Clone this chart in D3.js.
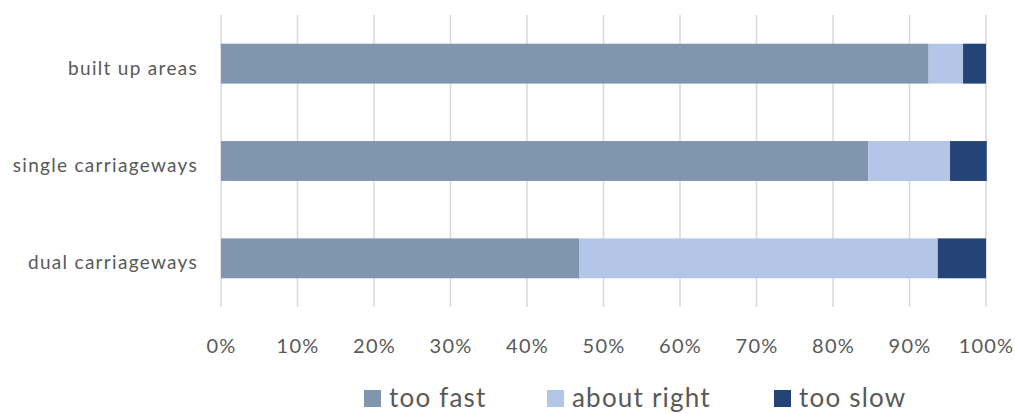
<!DOCTYPE html>
<html>
<head>
<meta charset="utf-8">
<script src="https://cdn.jsdelivr.net/npm/d3@7"></script>
<style>
  html, body { margin: 0; padding: 0; background: #fff; }
  svg text { font-family: Lato, "Open Sans", sans-serif; fill: #595959; }
</style>
</head>
<body>
<svg id="chart" width="1015" height="414"></svg>
<script>
// Road types, top to bottom
const categories = ["built up areas", "single carriageways", "dual carriageways"];
const seriesNames = ["too fast", "about right", "too slow"];
// Share of responses (%) per road type
const tooFast    = [92.5, 84.6, 46.8];
const aboutRight = [4.5, 10.7, 46.9];
const tooSlow    = [3.0, 4.8, 6.3];
const tickValues = [0, 10, 20, 30, 40, 50, 60, 70, 80, 90, 100];
const colors = ["#8096b0", "#b3c6e7", "#244478"];

const svg = d3.select("#chart");
const plotLeft = 221, plotRight = 986, plotTop = 15, plotBottom = 307;

const x = d3.scaleLinear().domain([0, 100]).range([plotLeft, plotRight]);
const y = d3.scaleBand().domain(categories).range([plotTop, plotBottom]).paddingInner(0.59).paddingOuter(0.295);

const rows = categories.map((c, i) => ({
  cat: c, "too fast": tooFast[i], "about right": aboutRight[i], "too slow": tooSlow[i]
}));
const stacked = d3.stack().keys(seriesNames)(rows);

// vertical gridlines
svg.append("g").selectAll("line").data(tickValues).join("line")
  .attr("x1", d => x(d)).attr("x2", d => x(d))
  .attr("y1", plotTop).attr("y2", plotBottom)
  .attr("stroke", "#d9d9d9").attr("stroke-width", 1.5);

// stacked bars
svg.append("g").selectAll("g").data(stacked).join("g")
  .attr("fill", (d, i) => colors[i])
  .selectAll("rect").data(d => d).join("rect")
  .attr("x", d => x(d[0]))
  .attr("width", d => x(d[1]) - x(d[0]))
  .attr("y", d => y(d.data.cat))
  .attr("height", y.bandwidth());

// x axis labels
const xAxis = d3.axisBottom(x).tickValues(tickValues).tickFormat(d => d + "%").tickSize(0).tickPadding(0);
const gx = svg.append("g").attr("transform", `translate(0,${plotBottom})`).call(xAxis);
gx.select(".domain").remove();
gx.selectAll("text").attr("dy", null).attr("y", 46)
  .attr("font-size", 20).style("letter-spacing", "1.2px")
  .style("font-family", "Lato, sans-serif").attr("fill", "#595959");

// category labels
const yAxis = d3.axisLeft(y).tickSize(0).tickPadding(0);
const gy = svg.append("g").attr("transform", `translate(198,0)`).call(yAxis);
gy.select(".domain").remove();
gy.selectAll("text").attr("dy", "0.57em")
  .attr("font-size", 19).style("letter-spacing", "1.3px")
  .style("font-family", "Lato, sans-serif").attr("fill", "#595959");

// legend
const legendX = [364, 547, 774];
const lg = svg.append("g").selectAll("g").data(seriesNames).join("g")
  .attr("transform", (d, i) => `translate(${legendX[i]},390)`);
lg.append("rect").attr("width", 17).attr("height", 17).attr("fill", (d, i) => colors[i]);
lg.append("text").attr("x", 25).attr("y", 17).attr("font-size", 26)
  .style("letter-spacing", "1.2px").text(d => d);
</script>
</body>
</html>
